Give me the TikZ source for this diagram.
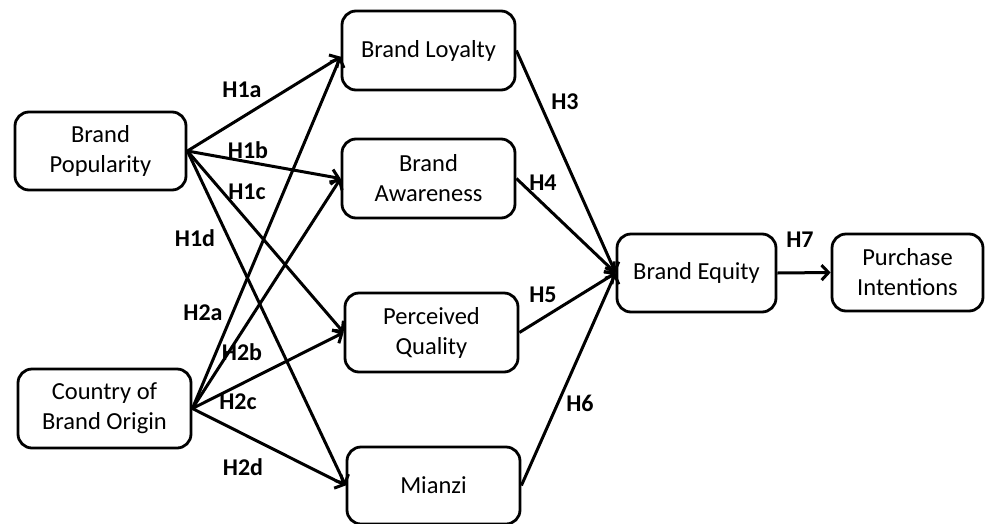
\documentclass[tikz,border=0pt]{standalone}
\usepackage{fontspec}
\setmainfont{Carlito}
\usetikzlibrary{arrows.meta}
\begin{document}
\begin{tikzpicture}[x=1pt,y=-1pt,
  box/.style={draw, line width=2.8pt, rounded corners=14pt, align=center,
    font=\fontsize{24.5}{30}\selectfont, inner sep=0pt},
  hyp/.style={font=\bfseries\fontsize{24}{28}\selectfont, inner sep=0pt},
  link/.style={line width=3pt, -{Straight Barb[length=7pt,width=15pt]}}]
\useasboundingbox (0,0) rectangle (986,523);
% boxes
\node[box, minimum width=171pt, minimum height=78pt] (pop) at (100.5,151) {Brand\\Popularity};
\node[box, minimum width=173pt, minimum height=79pt] (coo) at (104.5,408.5) {Country of\\Brand Origin};
\node[box, minimum width=173pt, minimum height=79pt] (loy) at (428.5,50.5) {Brand Loyalty};
\node[box, minimum width=173pt, minimum height=79pt] (awa) at (428.5,178.5) {Brand\\Awareness};
\node[box, minimum width=173pt, minimum height=79pt] (pq) at (431.5,332.5) {Perceived\\Quality};
\node[box, minimum width=173pt, minimum height=77pt] (mia) at (433.5,485.5) {Mianzi};
\node[box, minimum width=159pt, minimum height=78pt] (eq) at (696.5,273) {Brand Equity};
\node[box, minimum width=151pt, minimum height=77pt] (pi) at (907.5,272.5) {Purchase\\Intentions};
% connectors
\draw[link] (pop.east) -- (loy.184);
\draw[link] (pop.east) -- (awa.west);
\draw[link] (pop.east) -- (pq.west);
\draw[link] (pop.east) -- (mia.west);
\draw[link] (coo.east) -- (loy.184);
\draw[link] (coo.east) -- (awa.west);
\draw[link] (coo.east) -- (pq.west);
\draw[link] (coo.east) -- (mia.west);
\draw[link] (loy.east) -- (eq.west);
\draw[link] (awa.east) -- (eq.west);
\draw[link] (pq.east) -- (eq.west);
\draw[link] (mia.east) -- (eq.west);
\draw[link] (eq.east) -- (pi.west);
% labels
\node[hyp] (l1a) at (242,90) {H1a};
\node[hyp] (l1b) at (248,150) {H1b};
\node[hyp] (l1c) at (247,192) {H1c};
\node[hyp] (l1d) at (195,238) {H1d};
\node[hyp] (l2a) at (203,313) {H2a};
\node[hyp] (l2b) at (242,352) {H2b};
\node[hyp] (l2c) at (238,402) {H2c};
\node[hyp] (l2d) at (243,467) {H2d};
\node[hyp] (l3) at (565,102) {H3};
\node[hyp] (l4) at (543,183) {H4};
\node[hyp] (l5) at (543,295) {H5};
\node[hyp] (l6) at (580,403) {H6};
\node[hyp] (l7) at (800,240) {H7};
\end{tikzpicture}
\end{document}
